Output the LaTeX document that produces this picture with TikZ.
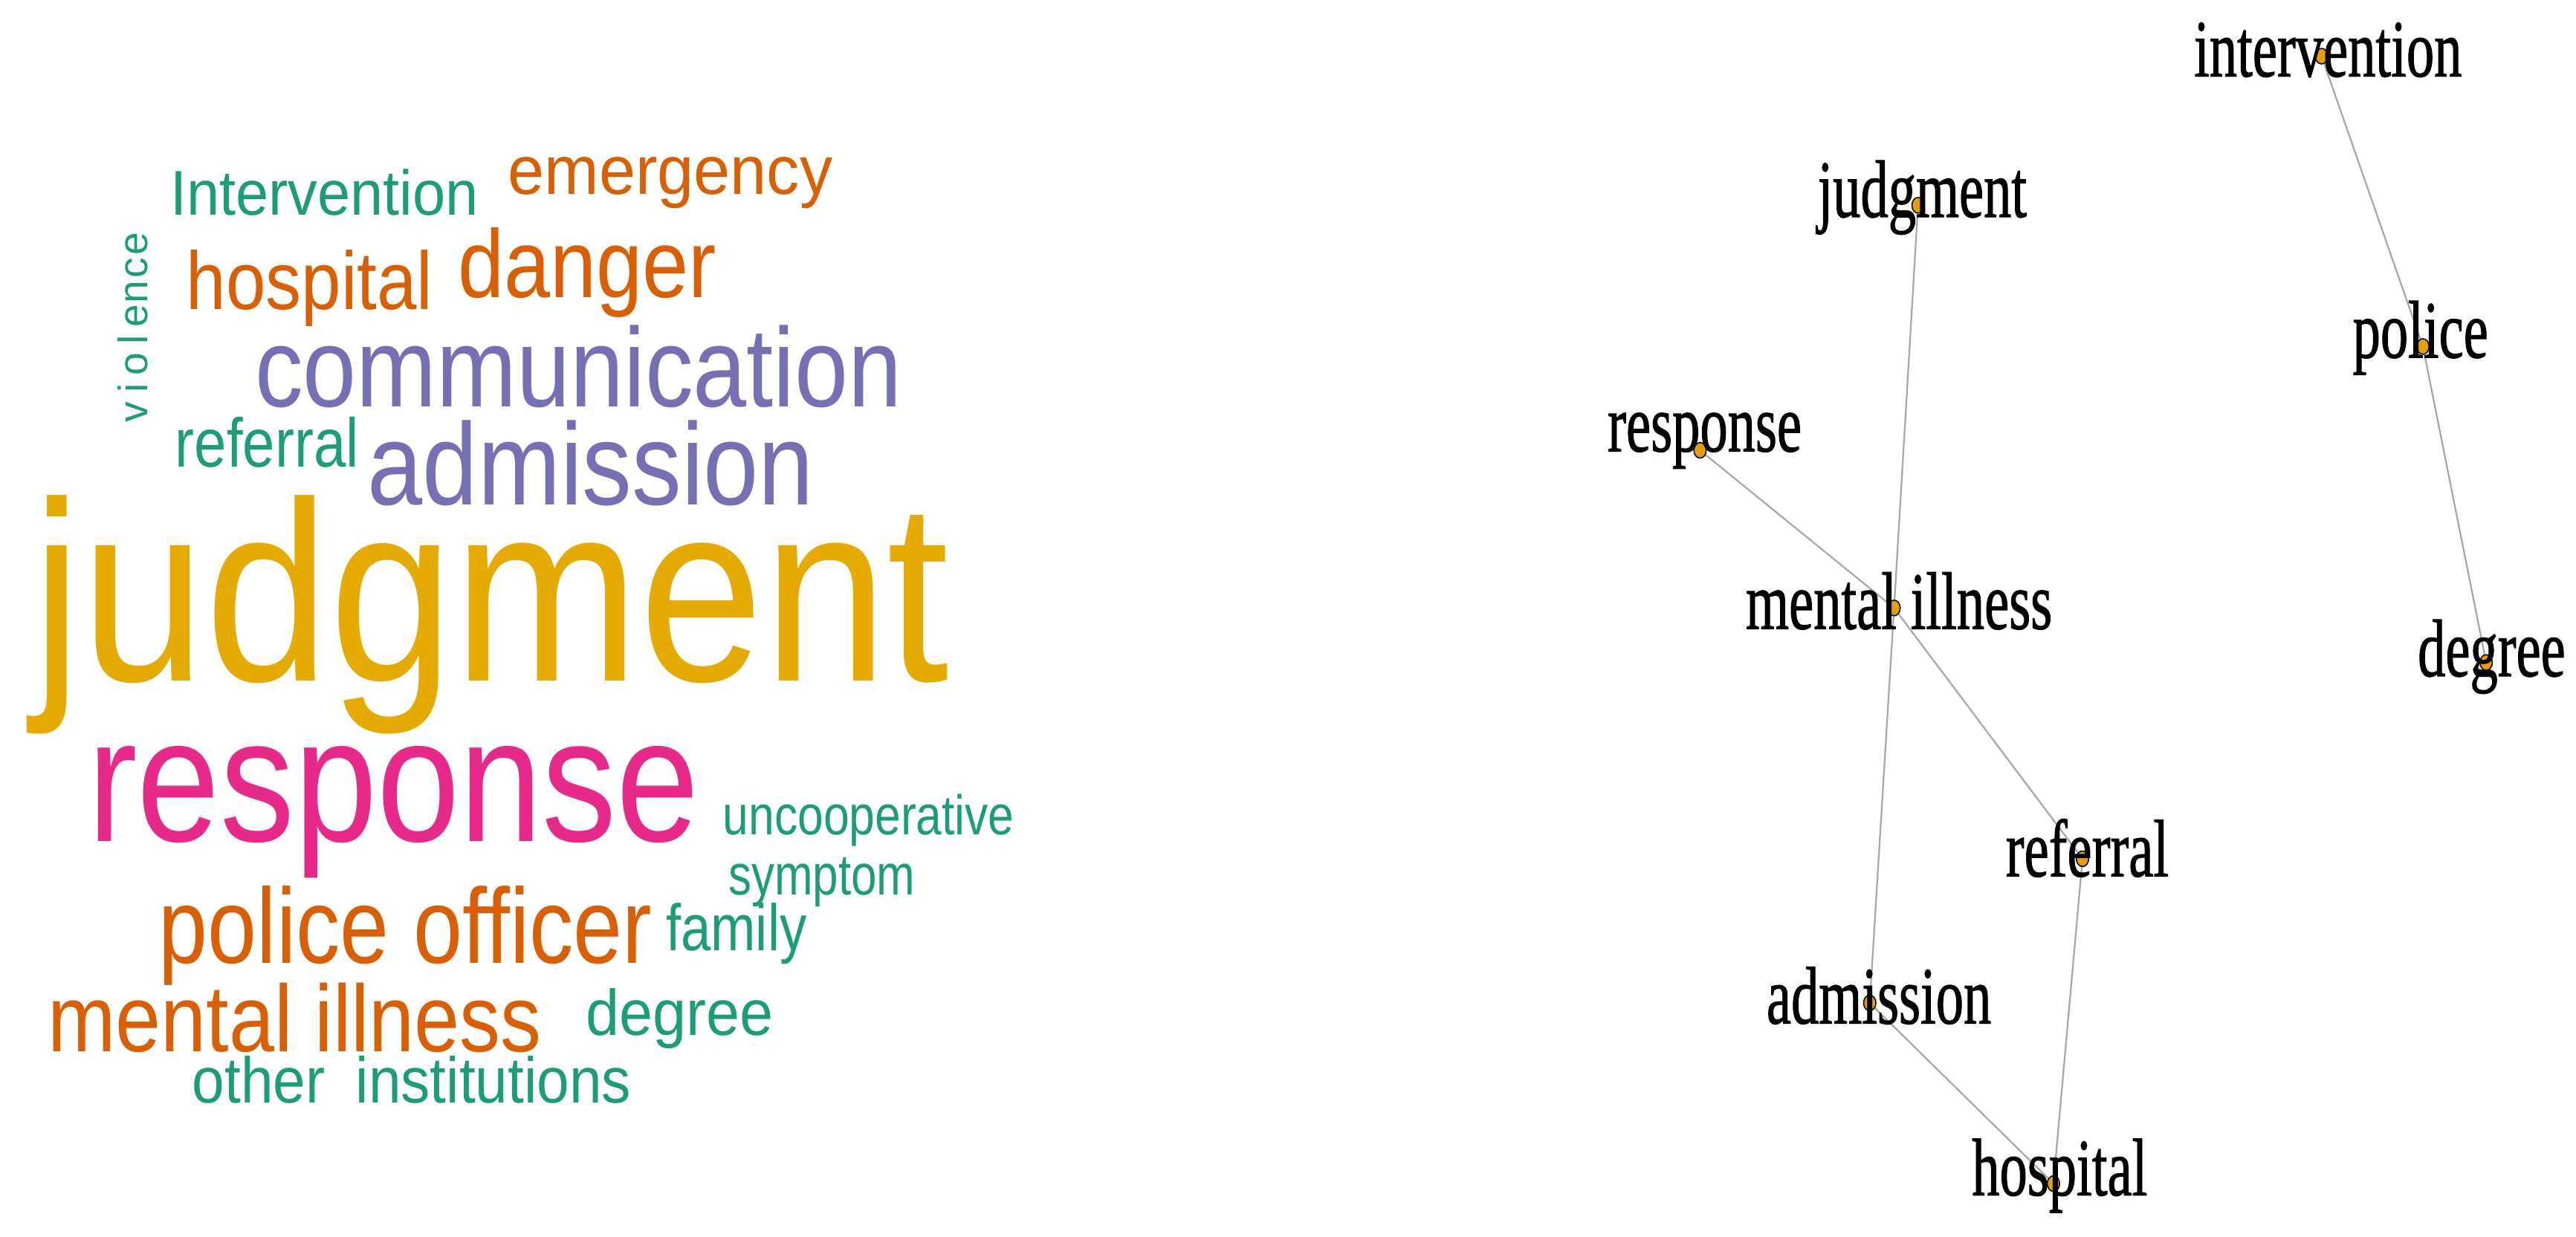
\documentclass[tikz,border=0pt]{standalone}
\usepackage{fontspec}
\setmainfont{Liberation Serif}
\newfontfamily\cloudfont{Liberation Sans}
\newfontfamily\netfont{Liberation Serif}[FakeBold=1.2]
\usetikzlibrary{shapes.geometric,backgrounds}

\definecolor{cgreen}{HTML}{1B9E77}
\definecolor{corange}{HTML}{D95F02}
\definecolor{cpurple}{HTML}{7570B3}
\definecolor{cpink}{HTML}{E7298A}
\definecolor{cgold}{HTML}{E6AB02}
\definecolor{vertexfill}{HTML}{E69F00}
\definecolor{edgegray}{HTML}{A6A6A6}

% one spaced-out letter of the rotated word
\newcommand{\vl}[1]{\makebox[14.7pt]{#1}}

\tikzset{
  cloudword/.style={anchor=base west, inner sep=0pt, outer sep=0pt},
  vertex/.style={ellipse, draw=black, fill=vertexfill, line width=0.7pt,
    minimum width=7.5pt, minimum height=9.5pt, inner sep=0pt},
  edge/.style={draw=edgegray, line width=1pt},
  netlabel/.style={anchor=base, inner sep=0pt, font=\netfont\fontsize{49.6}{50}\selectfont}
}

\begin{document}
\begin{tikzpicture}[x=1pt, y=-1pt]
  \useasboundingbox (0,0) rectangle (1568,753);

  % word cloud
  \foreach \nm/\x/\y/\s/\xs/\col/\txt in {
      interv/103.6/131.1/38.6/0.93/cgreen/Intervention,
      emerg/309.4/118.1/42/0.95/corange/emergency,
      hosp/113.4/188.2/50/0.87/corange/hospital,
      danger/279.0/181.3/58.7/0.86/corange/danger,
      comm/155.2/247.9/68.5/0.855/cpurple/communication,
      refer/106.7/284.3/42/0.84/cgreen/referral,
      admis/223.8/307.6/71/0.85/cpurple/admission,
      judg/19.6/414.8/156/0.87/cgold/judgment,
      resp/53.5/512.2/107.7/0.84/cpink/response,
      uncoop/440.1/508.2/34/0.83/cgreen/uncooperative,
      sympt/443.5/545.1/35/0.80/cgreen/symptom,
      family/405.4/578.9/40/0.82/cgreen/family,
      degree/356.5/630.5/39.4/0.93/cgreen/degree,
      police/96.8/586.3/65/0.825/corange/police officer,
      mental/29.1/640.3/57.7/0.86/corange/mental illness,
      other/117.1/671.5/39.4/0.90/cgreen/{other\hspace{.25em} institutions}}
    \node[cloudword, text=\col, font=\cloudfont\fontsize{\s}{\s}\selectfont]
      (w-\nm) at (\x,\y) {\scalebox{\xs}[1]{\txt}};
  \node[cloudword, rotate=90, text=cgreen, font=\cloudfont\fontsize{25}{25}\selectfont]
    (w-viol) at (90,258.5) {\vl{v}\vl{i}\vl{o}\vl{l}\vl{e}\vl{n}\vl{c}\vl{e}};

  % co-occurrence network
  \foreach \v/\x/\y in {intervention/1413.1/34.2, judgment/1167.5/125.0,
      police/1474.8/211.0, response/1034.8/274.2, mentill/1152.9/370.2,
      degree/1513.3/403.4, referral/1267.6/522.9, admission/1138.1/610.7,
      hospital/1249.9/720.7}
    \node[vertex] (\v) at (\x,\y) {};
  \begin{scope}[on background layer]
    \foreach \a/\b in {intervention/police, police/degree, judgment/mentill,
        mentill/admission, response/mentill, mentill/referral,
        referral/hospital, admission/hospital}
      \draw[edge] (\a.center) -- (\b.center);
  \end{scope}
  \foreach \v/\x/\y/\t in {intervention/1417.0/46.5/intervention,
      judgment/1170.0/132.1/judgment, police/1473.3/217.7/police,
      response/1037.6/274.8/response, mentill/1155.9/382.9/mental illness,
      degree/1516.6/411.7/degree, referral/1270.5/533.6/referral,
      admission/1143.7/623.2/admission, hospital/1253.7/727.8/hospital}
    \node[netlabel] (\v-lbl) at (\x,\y) {\scalebox{.68}[1]{\t}};
\end{tikzpicture}
\end{document}
